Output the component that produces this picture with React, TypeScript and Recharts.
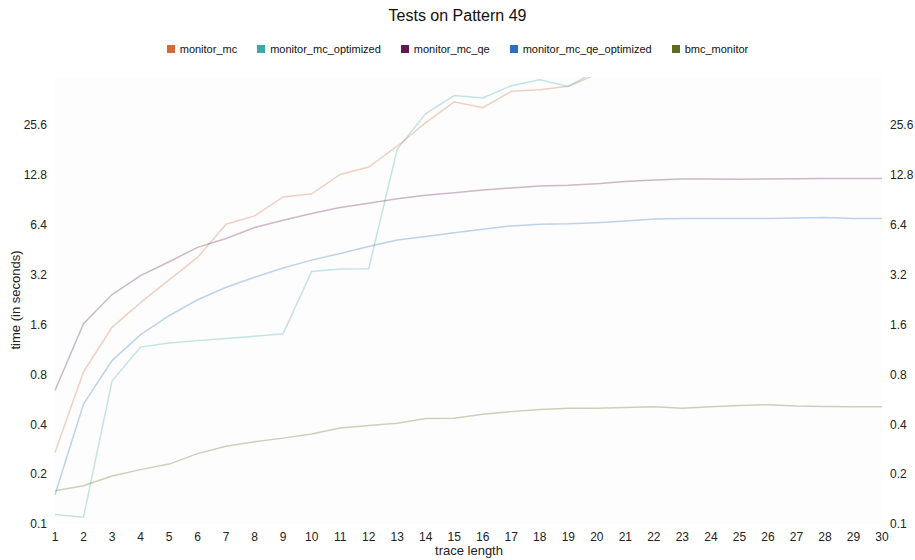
import React from 'react';
import { LineChart, Line, XAxis, YAxis, CartesianGrid } from 'recharts';

const traceLengths = [
  1, 2, 3, 4, 5, 6, 7, 8, 9, 10, 11, 12, 13, 14, 15,
  16, 17, 18, 19, 20, 21, 22, 23, 24, 25, 26, 27, 28, 29, 30,
];

const monitorMc = [
  0.27, 0.83, 1.54, 2.17, 2.98, 4.07, 6.46, 7.25, 9.44, 9.85, 12.9, 14.3, 19.1, 26.5, 35.4,
  32.6, 41.0, 41.9, 43.9, 52, 58, 63, 70, 76, 84, 90, 98, 106, 115, 124,
];
const monitorMcOptimized = [
  0.114, 0.11, 0.73, 1.17, 1.24, 1.28, 1.32, 1.36, 1.41, 3.35, 3.46, 3.48, 18.3, 30.1, 38.6,
  37.4, 44.3, 48.1, 43.9, 54.5, 60, 66, 72, 80, 88, 95, 104, 112, 121, 130,
];
const monitorMcQe = [
  0.64, 1.62, 2.43, 3.16, 3.83, 4.68, 5.3, 6.17, 6.83, 7.5, 8.15, 8.64, 9.2, 9.66, 10.0,
  10.4, 10.7, 11.0, 11.1, 11.35, 11.7, 11.95, 12.1, 12.1, 12.05, 12.1, 12.15, 12.2, 12.2, 12.2,
];
const monitorMcQeOptimized = [
  0.15, 0.53, 0.97, 1.39, 1.81, 2.26, 2.69, 3.09, 3.51, 3.92, 4.3, 4.74, 5.18, 5.45, 5.73,
  6.02, 6.31, 6.46, 6.5, 6.6, 6.75, 6.95, 7.0, 7.0, 7.0, 7.0, 7.05, 7.1, 7.0, 7.0,
];
const bmcMonitor = [
  0.159, 0.17, 0.195, 0.213, 0.23, 0.266, 0.295, 0.314, 0.33, 0.35, 0.38, 0.393, 0.406, 0.433, 0.435,
  0.46, 0.477, 0.492, 0.5, 0.5, 0.505, 0.51, 0.5, 0.51, 0.52, 0.525, 0.515, 0.513, 0.51, 0.51,
];

const yTicks = [0.1, 0.2, 0.4, 0.8, 1.6, 3.2, 6.4, 12.8, 25.6];

const series = [
  { key: 'monitor_mc', values: monitorMc, color: '#d2693a' },
  { key: 'monitor_mc_optimized', values: monitorMcOptimized, color: '#3ea8a8' },
  { key: 'monitor_mc_qe', values: monitorMcQe, color: '#601a52' },
  { key: 'monitor_mc_qe_optimized', values: monitorMcQeOptimized, color: '#2c6fc2' },
  { key: 'bmc_monitor', values: bmcMonitor, color: '#5e6b22' },
];

const data = traceLengths.map((t, i) => {
  const row: any = { x: t };
  series.forEach((s) => { row[s.key] = s.values[i]; });
  return row;
});

const font = 'Arial, "Liberation Sans", sans-serif';
const tickStyle = { fill: '#222', fontSize: 12, fontFamily: font };

export default function App() {
  return (
    <div style={{ position: 'absolute', left: 0, top: 0, width: 915, height: 560, background: '#fff', fontFamily: font }}>
      <div style={{ position: 'absolute', top: 7, left: 0, width: 915, textAlign: 'center', fontSize: 16, color: '#111' }}>
        Tests on Pattern 49
      </div>
      <div style={{ position: 'absolute', top: 43, left: 0, width: 915, display: 'flex', justifyContent: 'center', gap: 20, fontSize: 11, color: '#111' }}>
        {series.map((s) => (
          <div key={s.key} style={{ display: 'flex', alignItems: 'center', gap: 5 }}>
            <div style={{ width: 8, height: 8, background: s.color }} />
            <span>{s.key}</span>
          </div>
        ))}
      </div>
      <div style={{ position: 'absolute', left: 15, top: 300, transform: 'translate(-50%, -50%) rotate(-90deg)', fontSize: 13, color: '#222', whiteSpace: 'nowrap' }}>
        time (in seconds)
      </div>
      <div style={{ position: 'absolute', left: 0, top: 543, width: 938, textAlign: 'center', fontSize: 13, color: '#222' }}>
        trace length
      </div>
      <LineChart width={915} height={560} data={data} margin={{ top: 77, right: 0, bottom: 16, left: 15 }}>
        <CartesianGrid horizontal={false} vertical={false} fill="#fdfdfd" yAxisId="left" />
        <XAxis dataKey="x" interval={0} tickLine={false} axisLine={false} tick={tickStyle} height={20} />
        <YAxis
          yAxisId="left"
          scale="log"
          domain={[0.1, 50]}
          allowDataOverflow
          ticks={yTicks}
          tickLine={false}
          axisLine={false}
          tick={tickStyle}
          width={40}
        />
        <YAxis
          yAxisId="right"
          orientation="right"
          scale="log"
          domain={[0.1, 50]}
          allowDataOverflow
          ticks={yTicks}
          tickLine={false}
          axisLine={false}
          tick={{ ...tickStyle, textAnchor: 'start' }}
          width={33}
        />
        {series.map((s) => (
          <Line
            key={s.key}
            yAxisId="left"
            type="linear"
            dataKey={s.key}
            stroke={s.color}
            strokeOpacity={0.3}
            strokeWidth={1.5}
            dot={false}
            isAnimationActive={false}
          />
        ))}
      </LineChart>
    </div>
  );
}
